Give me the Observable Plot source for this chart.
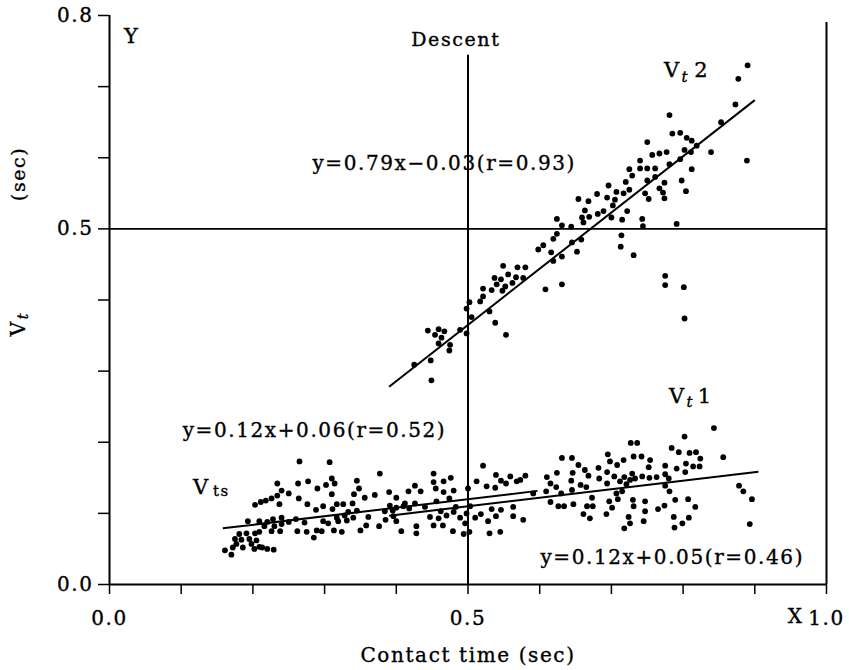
<!DOCTYPE html>
<html><head><meta charset="utf-8">
<script src="https://cdn.jsdelivr.net/npm/d3@7"></script>
<script src="https://cdn.jsdelivr.net/npm/@observablehq/plot@0.6"></script>
<style>
html,body{margin:0;padding:0;background:#fff;}
#chart{width:849px;height:670px;}
svg text{stroke:#000;stroke-width:0.35px;}
g[aria-label="equation"] text{letter-spacing:1.6px;}
g[aria-label="axis-title"] text{letter-spacing:0.3px;}
g[aria-label="descent"] text{letter-spacing:1.4px;}
g[aria-label="sub-ts"] text{letter-spacing:3px;}
</style></head><body><div id="chart"></div>
<script>
// Vt2 (upper series) [contact time, Vt]
const vt2 = [[0.444,0.357],[0.459,0.359],[0.467,0.356],[0.454,0.351],[0.463,0.347],[0.459,0.339],[0.475,0.337],[0.474,0.329],[0.489,0.358],[0.448,0.315],[0.425,0.309],[0.449,0.287],[0.498,0.388],[0.502,0.397],[0.498,0.353],[0.505,0.376],[0.517,0.398],[0.521,0.405],[0.521,0.416],[0.530,0.384],[0.533,0.414],[0.537,0.431],[0.538,0.368],[0.540,0.422],[0.546,0.429],[0.549,0.448],[0.548,0.413],[0.552,0.419],[0.553,0.351],[0.556,0.436],[0.562,0.424],[0.567,0.432],[0.569,0.446],[0.580,0.446],[0.577,0.431],[0.598,0.471],[0.605,0.477],[0.608,0.415],
[0.890,0.730],[0.877,0.711],[0.873,0.675],[0.853,0.650],[0.889,0.596],[0.781,0.660],[0.785,0.634],[0.796,0.635],[0.805,0.628],[0.812,0.624],[0.819,0.617],[0.802,0.611],[0.811,0.608],[0.839,0.608],[0.796,0.598],[0.781,0.591],[0.812,0.584],[0.798,0.568],[0.804,0.553],[0.750,0.622],[0.757,0.604],[0.767,0.606],[0.777,0.608],[0.740,0.596],[0.725,0.584],[0.740,0.585],[0.750,0.585],[0.761,0.585],[0.729,0.575],[0.750,0.568],[0.761,0.573],[0.774,0.565],[0.767,0.557],[0.772,0.551],[0.774,0.543],[0.747,0.550],[0.752,0.542],[0.720,0.566],[0.725,0.555],[0.717,0.550],[0.707,0.552],[0.696,0.561],[0.694,0.544],[0.705,0.541],[0.680,0.549],[0.668,0.539],[0.654,0.542],[0.702,0.533],[0.689,0.525],[0.681,0.521],[0.663,0.526],[0.659,0.516],[0.669,0.517],[0.722,0.525],[0.700,0.516],[0.715,0.513],[0.661,0.509],[0.624,0.514],[0.631,0.505],[0.644,0.503],[0.743,0.514],[0.744,0.504],[0.791,0.507],[0.624,0.493],[0.619,0.486],[0.616,0.467],[0.631,0.461],[0.645,0.481],[0.658,0.485],[0.652,0.468],[0.619,0.455],[0.714,0.491],[0.713,0.475],[0.731,0.463],[0.775,0.434],[0.775,0.421],[0.631,0.422],[0.801,0.418],[0.802,0.374]];

// Vts (left part of lower cluster)
const vts = [[0.265,0.173],[0.307,0.172],[0.234,0.142],[0.263,0.142],[0.277,0.145],[0.290,0.135],[0.302,0.140],[0.310,0.149],[0.314,0.142],[0.345,0.146],[0.240,0.132],[0.250,0.128],[0.234,0.125],[0.226,0.121],[0.218,0.118],[0.211,0.116],[0.203,0.112],[0.237,0.113],[0.264,0.121],[0.276,0.113],[0.288,0.105],[0.298,0.110],[0.310,0.127],[0.311,0.106],[0.317,0.113],[0.326,0.113],[0.339,0.114],[0.341,0.127],[0.333,0.102],[0.345,0.104],[0.317,0.094],[0.328,0.097],[0.193,0.089],[0.209,0.089],[0.220,0.088],[0.228,0.092],[0.240,0.094],[0.230,0.082],[0.240,0.085],[0.250,0.088],[0.260,0.092],[0.272,0.087],[0.298,0.089],[0.305,0.086],[0.296,0.075],[0.319,0.089],[0.331,0.090],[0.340,0.094],[0.216,0.082],[0.226,0.075],[0.238,0.075],[0.262,0.075],[0.275,0.074],[0.285,0.066],[0.289,0.076],[0.313,0.076],[0.324,0.074],[0.181,0.071],[0.191,0.072],[0.203,0.072],[0.209,0.074],[0.175,0.064],[0.184,0.063],[0.195,0.064],[0.205,0.062],[0.177,0.057],[0.186,0.052],[0.198,0.057],[0.209,0.053],[0.220,0.050],[0.229,0.049],[0.172,0.052],[0.161,0.048],[0.170,0.042],[0.202,0.050],[0.213,0.052],
[0.377,0.156],[0.348,0.135],[0.356,0.122],[0.370,0.126],[0.390,0.130],[0.400,0.122],[0.417,0.131],[0.426,0.139],[0.434,0.131],[0.412,0.114],[0.426,0.114],[0.391,0.111],[0.400,0.108],[0.410,0.110],[0.418,0.107],[0.384,0.103],[0.395,0.104],[0.361,0.095],[0.385,0.091],[0.400,0.089],[0.396,0.096],[0.358,0.083],[0.376,0.082],[0.350,0.076],[0.407,0.075],[0.428,0.072],[0.428,0.082],[0.440,0.109],[0.447,0.095]];

// Vt1 (right part of lower cluster)
const vt1 = [[0.452,0.156],[0.452,0.144],[0.466,0.145],[0.476,0.150],[0.455,0.135],[0.466,0.130],[0.480,0.132],[0.456,0.117],[0.474,0.121],[0.462,0.103],[0.483,0.109],[0.480,0.102],[0.459,0.093],[0.470,0.097],[0.489,0.094],[0.496,0.086],[0.498,0.100],[0.452,0.083],[0.465,0.083],[0.479,0.075],[0.494,0.071],[0.502,0.074],[0.500,0.135],[0.503,0.110],[0.512,0.145],[0.521,0.167],[0.526,0.138],[0.539,0.154],[0.546,0.146],[0.559,0.152],[0.568,0.145],[0.553,0.142],[0.538,0.136],[0.533,0.106],[0.546,0.105],[0.563,0.109],[0.510,0.094],[0.518,0.099],[0.528,0.089],[0.539,0.096],[0.563,0.096],[0.530,0.072],[0.545,0.074],
[0.727,0.199],[0.736,0.199],[0.631,0.178],[0.645,0.178],[0.695,0.183],[0.698,0.173],[0.708,0.168],[0.717,0.175],[0.731,0.180],[0.742,0.180],[0.754,0.175],[0.752,0.165],[0.654,0.168],[0.663,0.161],[0.682,0.164],[0.694,0.158],[0.624,0.157],[0.610,0.151],[0.646,0.157],[0.668,0.153],[0.704,0.152],[0.718,0.151],[0.729,0.156],[0.733,0.149],[0.743,0.152],[0.753,0.150],[0.763,0.151],[0.615,0.142],[0.623,0.137],[0.644,0.146],[0.657,0.140],[0.683,0.149],[0.694,0.142],[0.712,0.145],[0.721,0.141],[0.726,0.147],[0.609,0.131],[0.630,0.128],[0.645,0.133],[0.665,0.137],[0.591,0.128],[0.573,0.147],[0.580,0.153],[0.707,0.128],[0.715,0.131],[0.615,0.116],[0.626,0.110],[0.634,0.110],[0.647,0.113],[0.673,0.122],[0.697,0.117],[0.709,0.120],[0.730,0.119],[0.747,0.117],[0.674,0.110],[0.666,0.110],[0.701,0.108],[0.731,0.110],[0.661,0.099],[0.670,0.093],[0.693,0.099],[0.724,0.095],[0.747,0.103],[0.765,0.106],[0.726,0.086],[0.745,0.089],[0.718,0.079],[0.577,0.091],
[0.843,0.220],[0.802,0.208],[0.784,0.192],[0.794,0.186],[0.818,0.186],[0.809,0.185],[0.824,0.177],[0.856,0.179],[0.775,0.167],[0.791,0.163],[0.804,0.170],[0.814,0.166],[0.823,0.166],[0.803,0.158],[0.775,0.155],[0.780,0.149],[0.775,0.139],[0.781,0.131],[0.878,0.139],[0.884,0.131],[0.896,0.120],[0.893,0.085],[0.789,0.119],[0.807,0.120],[0.817,0.109],[0.774,0.111],[0.787,0.095],[0.808,0.094],[0.799,0.086],[0.788,0.080]];

// regression lines as printed: y = slope*x + intercept over [xStart, xEnd]
const fitNames = ["Vt2", "Vts", "Vt1"];
const fitSlopes = [0.79, 0.12, 0.12];
const fitIntercepts = [-0.03, 0.06, 0.05];
const fitStarts = [0.39, 0.158, 0.39];
const fitEnds = [0.90, 0.597, 0.905];
const fitLabels = ["y=0.79x\u22120.03(r=0.93)", "y=0.12x+0.06(r=0.52)", "y=0.12x+0.05(r=0.46)"];

const xTicks = [0, 0.1, 0.2, 0.3, 0.4, 0.5, 0.6, 0.7, 0.8, 0.9, 1.0];
const xTickLabels = new Map([[0, "0.0"], [0.5, "0.5"], [1, "1.0"]]);
const yTicks = [0, 0.1, 0.2, 0.3, 0.4, 0.5, 0.6, 0.7, 0.8];
const yTickLabels = new Map([[0, "0.0"], [0.5, "0.5"], [0.8, "0.8"]]);

const fits = fitNames.map((n, i) => ({
  name: n,
  x1: fitStarts[i], x2: fitEnds[i],
  y1: fitSlopes[i] * fitStarts[i] + fitIntercepts[i],
  y2: fitSlopes[i] * fitEnds[i] + fitIntercepts[i]
}));

const eqPos = [
  {text: fitLabels[0], x: 0.283, y: 0.592},
  {text: fitLabels[1], x: 0.102, y: 0.217},
  {text: fitLabels[2], x: 0.601, y: 0.038}
];

const font = "DejaVu Serif";
const fmt = m => d => { for (const [k, v] of m) if (Math.abs(k - d) < 1e-9) return v; return ""; };

const chart = Plot.plot({
  width: 849, height: 670,
  marginLeft: 109, marginRight: 23, marginTop: 15, marginBottom: 86,
  x: {domain: [0, 1]},
  y: {domain: [0, 0.8]},
  style: {fontFamily: font, fontSize: "20px", color: "#000", background: "#fff", letterSpacing: "1.6px"},
  marks: [
    Plot.axisX({ticks: xTicks, tickSize: 10, tickPadding: 16, tickFormat: fmt(xTickLabels), label: null, fontSize: 20, strokeWidth: 1.5}),
    Plot.axisY({ticks: yTicks, tickSize: 11, tickPadding: 5, tickFormat: fmt(yTickLabels), label: null, fontSize: 20, strokeWidth: 1.5}),
    Plot.ruleX([0], {y1: 0, y2: 0.8, strokeWidth: 2}),
    Plot.ruleY([0], {x1: 0, x2: 1, strokeWidth: 2}),
    Plot.ruleX([1], {y1: 0, y2: 0.79, strokeWidth: 2}),
    Plot.ruleX([0.5], {y1: 0, y2: 0.744, strokeWidth: 2}),
    Plot.ruleY([0.5], {x1: 0, x2: 1, strokeWidth: 1.8}),
    Plot.link(fits, {x1: "x1", y1: "y1", x2: "x2", y2: "y2", stroke: "#000", strokeWidth: 2}),
    Plot.dot(vt2, {x: d => d[0], y: d => d[1], r: 2.9, fill: "#000", stroke: "none"}),
    Plot.dot(vts, {x: d => d[0], y: d => d[1], r: 2.9, fill: "#000", stroke: "none"}),
    Plot.dot(vt1, {x: d => d[0], y: d => d[1], r: 2.9, fill: "#000", stroke: "none"}),
    Plot.text(eqPos, {x: "x", y: "y", text: "text", textAnchor: "start", fontSize: 20, ariaLabel: "equation"}),
    Plot.text(["Descent"], {x: 0.483, y: 0.765, fontSize: 19, ariaLabel: "descent"}),
    Plot.text(["Y"], {x: 0.031, y: 0.771, fontSize: 21}),
    // series labels: V with subscript
    Plot.text(["V", "V", "V"], {x: [0.785, 0.792, 0.128], y: [0.723, 0.264, 0.137], fontSize: 21}),
    Plot.text(["t", "t"], {x: [0.803, 0.810], y: [0.713, 0.256], fontSize: 15, fontStyle: "italic"}),
    Plot.text(["2", "1"], {x: [0.826, 0.831], y: [0.723, 0.264], fontSize: 21}),
    Plot.text(["ts"], {x: 0.156, y: 0.131, fontSize: 15, ariaLabel: "sub-ts"}),
    Plot.text(["X"], {x: 0.957, frameAnchor: "bottom", lineAnchor: "middle", dy: 32, fontSize: 20}),
    Plot.text(["Contact time (sec)"], {x: 0.5, frameAnchor: "bottom", lineAnchor: "middle", dy: 71, fontSize: 20, ariaLabel: "axis-title"}),
    Plot.text(["(sec)"], {y: 0.539, frameAnchor: "left", dx: -91, rotate: -90, fontSize: 19}),
    Plot.text(["V"], {y: 0.349, frameAnchor: "left", dx: -91, rotate: -90, fontSize: 20}),
    Plot.text(["t"], {y: 0.373, frameAnchor: "left", dx: -86, rotate: -90, fontSize: 14, fontStyle: "italic"})
  ]
});
document.getElementById("chart").appendChild(chart);
</script></body></html>
